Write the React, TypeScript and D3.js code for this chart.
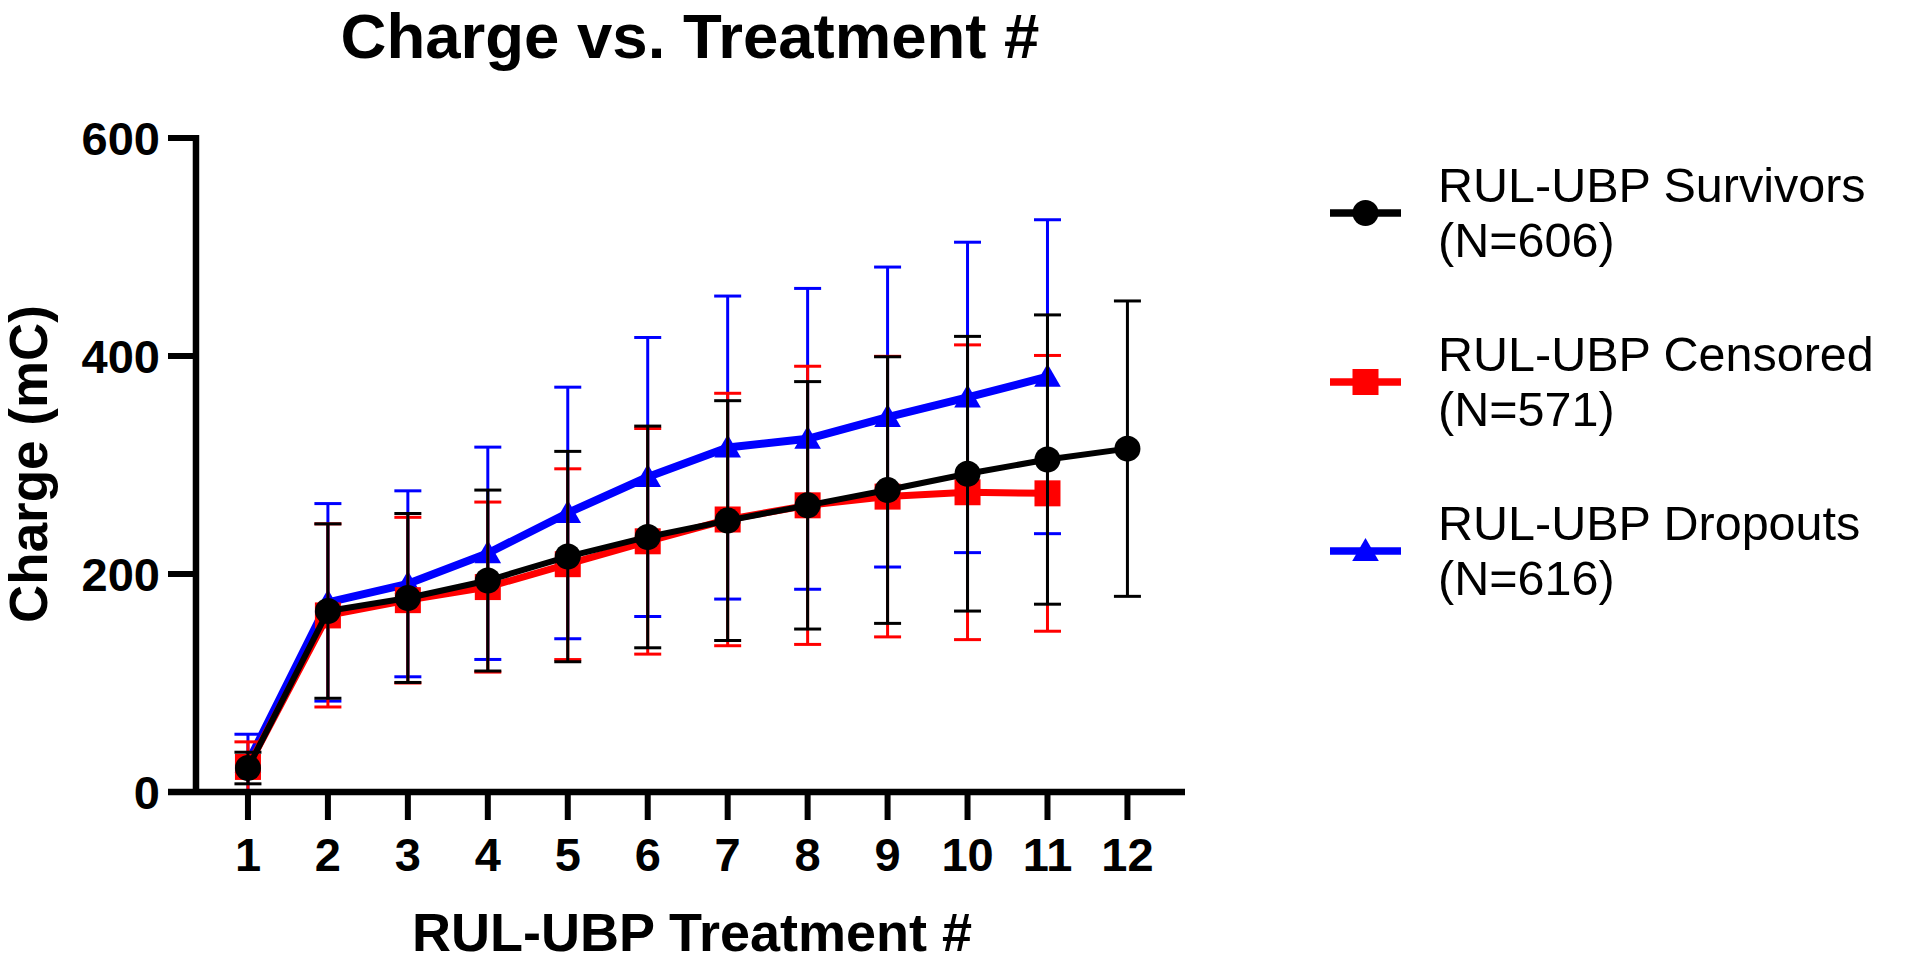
import React from "react";
import * as d3 from "d3";

const treatments = [1, 2, 3, 4, 5, 6, 7, 8, 9, 10, 11, 12];
const survivorsMean = [22, 166, 178, 194, 216, 234, 249, 263, 277, 292, 305, 315];
const survivorsSD = [14.5, 80, 77.5, 83, 96.5, 101.7, 110, 113.5, 122.3, 126, 132.7, 135.5];
const censoredMean = [23, 162, 176, 188, 209, 230, 250, 263, 271, 275, 274];
const censoredSD = [23, 84, 76, 78, 87.5, 103.5, 115.8, 127.6, 128.7, 135.2, 126.5];
const dropoutsMean = [27, 174, 191, 219, 256, 289, 316, 324, 344, 362, 381];
const dropoutsSD = [26, 90.6, 85.3, 97.4, 115.4, 128, 139, 138, 137.6, 142.4, 144];

const yTicks = [0, 200, 400, 600];
const xTicks = treatments;

const seriesNames = ["RUL-UBP Survivors", "RUL-UBP Censored", "RUL-UBP Dropouts"];
const seriesN = ["(N=606)", "(N=571)", "(N=616)"];
const seriesColors = ["#000000", "#ff0000", "#0000ff"];
const seriesShapes = ["circle", "square", "triangle"];

const title = "Charge vs. Treatment #";
const xTitle = "RUL-UBP Treatment #";
const yTitle = "Charge (mC)";

const FONT = "'Liberation Sans', Arial, Helvetica, sans-serif";

function Marker({ shape, cx, cy, color }: { shape: string; cx: number; cy: number; color: string }) {
  if (shape === "circle") return <circle cx={cx} cy={cy} r={13} fill={color} />;
  if (shape === "square") return <rect x={cx - 13} y={cy - 13} width={26} height={26} fill={color} />;
  return (
    <path
      d={`M${cx},${cy - 13}L${cx + 13.3},${cy + 10}L${cx - 13.3},${cy + 10}Z`}
      fill={color}
    />
  );
}

export default function App() {
  const x = d3.scaleLinear().domain([0, 12.72]).range([168, 1185]);
  const y = d3.scaleLinear().domain([0, 600]).range([792, 138]);
  const yAxisX = x(0.35);

  const series = [
    { mean: dropoutsMean, sd: dropoutsSD, idx: 2, width: 8 },
    { mean: censoredMean, sd: censoredSD, idx: 1, width: 7 },
    { mean: survivorsMean, sd: survivorsSD, idx: 0, width: 6 },
  ];

  const line = d3
    .line<number>()
    .x((_, i) => x(treatments[i]))
    .y((d) => y(d));

  const capHalf = 13.5;

  return (
    <svg
      width={1920}
      height={963}
      style={{ position: "absolute", left: 0, top: 0, display: "block", background: "#fff" }}
      fontFamily={FONT}
    >
      <rect x={0} y={0} width={1920} height={963} fill="#fff" />
      {/* Title */}
      <text x={690} y={58} textAnchor="middle" fontSize={63.5} fontWeight="bold" fill="#000">
        {title}
      </text>

      {/* Data */}
      {series.map((s) => {
        const color = seriesColors[s.idx];
        return (
          <g key={s.idx}>
            {s.mean.map((m, i) => {
              const cx = x(treatments[i]);
              const top = y(m + s.sd[i]);
              const bot = y(Math.max(0, m - s.sd[i]));
              return (
                <g key={i} stroke={color} strokeWidth={3}>
                  <line x1={cx} x2={cx} y1={top} y2={bot} />
                  <line x1={cx - capHalf} x2={cx + capHalf} y1={top} y2={top} />
                  <line x1={cx - capHalf} x2={cx + capHalf} y1={bot} y2={bot} />
                </g>
              );
            })}
            <path d={line(s.mean) || ""} fill="none" stroke={color} strokeWidth={s.width} strokeLinejoin="round" />
            {s.mean.map((m, i) => (
              <Marker key={i} shape={seriesShapes[s.idx]} cx={x(treatments[i])} cy={y(m)} color={color} />
            ))}
          </g>
        );
      })}

      {/* Y axis */}
      <line x1={yAxisX} x2={yAxisX} y1={y(600) - 3} y2={y(0)} stroke="#000" strokeWidth={6.5} />
      {yTicks.map((t) => (
        <g key={t}>
          <line x1={168} x2={yAxisX} y1={y(t)} y2={y(t)} stroke="#000" strokeWidth={6} />
          <text x={160} y={y(t) + 16.5} textAnchor="end" fontSize={47} fontWeight="bold" fill="#000">
            {t}
          </text>
        </g>
      ))}

      {/* X axis */}
      <line x1={x(0)} x2={x(12.72)} y1={y(0)} y2={y(0)} stroke="#000" strokeWidth={6.5} />
      {xTicks.map((t) => (
        <g key={t}>
          <line x1={x(t)} x2={x(t)} y1={y(0)} y2={y(0) + 28} stroke="#000" strokeWidth={6} />
          <text x={x(t)} y={871} textAnchor="middle" fontSize={47} fontWeight="bold" fill="#000">
            {t}
          </text>
        </g>
      ))}

      {/* Axis titles */}
      <text x={692} y={951} textAnchor="middle" fontSize={54} fontWeight="bold" fill="#000">
        {xTitle}
      </text>
      <text
        transform="translate(47,464) rotate(-90)"
        textAnchor="middle"
        fontSize={53}
        fontWeight="bold"
        fill="#000"
      >
        {yTitle}
      </text>

      {/* Legend */}
      {seriesNames.map((name, i) => {
        const my = 213 + i * 169;
        const color = seriesColors[i];
        return (
          <g key={name}>
            <line x1={1330} x2={1401} y1={my} y2={my} stroke={color} strokeWidth={7.5} />
            <Marker shape={seriesShapes[i]} cx={1365.5} cy={my} color={color} />
            <text x={1438} y={my - 11} fontSize={48.5} fill="#000">
              {name}
            </text>
            <text x={1438} y={my + 43.5} fontSize={48.5} fill="#000">
              {seriesN[i]}
            </text>
          </g>
        );
      })}
    </svg>
  );
}
